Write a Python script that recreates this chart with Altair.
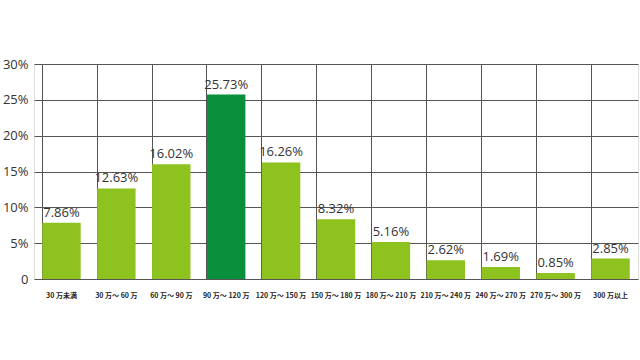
import altair as alt
import pandas as pd

categories = ["30 万未満", "30 万～ 60 万", "60 万～ 90 万", "90 万～ 120 万", "120 万～ 150 万",
              "150 万～ 180 万", "180 万～ 210 万", "210 万～ 240 万", "240 万～ 270 万",
              "270 万～ 300 万", "300 万以上"]
values = [7.86, 12.63, 16.02, 25.73, 16.26, 8.32, 5.16, 2.62, 1.69, 0.85, 2.85]
highlight = [False, False, False, True, False, False, False, False, False, False, False]
y_ticks = [0, 5, 10, 15, 20, 25, 30]

df = pd.DataFrame({"cat": categories, "val": values, "hi": highlight})
df["label"] = [f"{v:.2f}%" for v in values]

x = alt.X("cat:N", sort=categories, title=None,
          scale=alt.Scale(paddingInner=0.3, paddingOuter=0.15),
          axis=alt.Axis(labelAngle=0, labelFontSize=7, labelFontWeight="bold",
                        labelFont="Noto Sans CJK JP", labelColor="#222", ticks=False,
                        domain=False, grid=True, bandPosition=0, gridColor="#555",
                        gridWidth=1, labelPadding=12, labelOverlap=False, labelLimit=60))
y = alt.Y("val:Q", title=None,
          scale=alt.Scale(domain=[0, 30], nice=False),
          axis=alt.Axis(values=y_ticks, tickCount=7, ticks=False, domain=False, labelOverlap=False,
                        gridColor="#555", gridWidth=1, labelFontSize=13,
                        labelFont="Open Sans", labelColor="#333", labelPadding=6,
                        labelExpr="datum.value == 0 ? '0' : datum.value + '%'"))

base = alt.Chart(df).encode(x=x, y=y)

bars = base.mark_bar().encode(
    color=alt.Color("hi:N", scale=alt.Scale(domain=[False, True], range=["#8DC21F", "#0A8F3C"]), legend=None),
)
text = base.mark_text(baseline="bottom", dy=-3, fontSize=13, font="Open Sans", color="#333").encode(
    text="label:N",
)

chart = (bars + text).properties(
    width=604, height=215,
    autosize=alt.AutoSizeParams(type="none"),
    padding={"left": 34, "top": 64, "right": 2, "bottom": 81},
).configure_view(stroke="#555", strokeWidth=1).configure(background="white")

chart.save("out.html", embed_options={"renderer": "svg", "actions": False})
